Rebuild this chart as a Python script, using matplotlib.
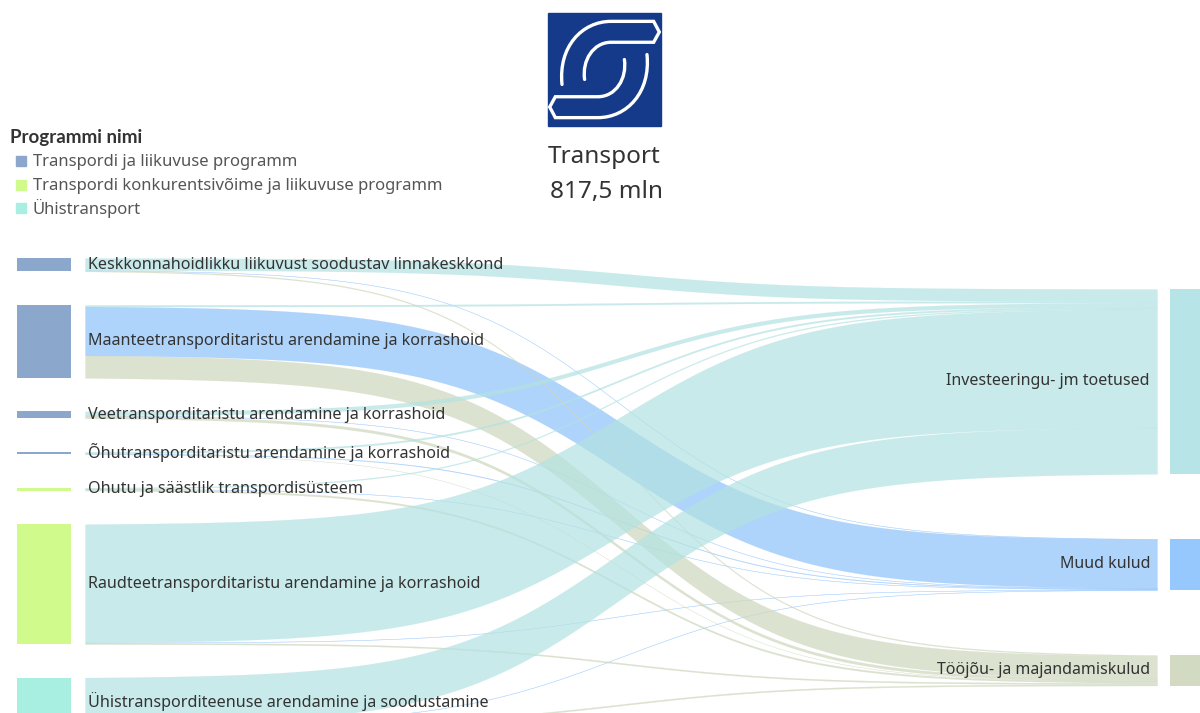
import numpy as np
import matplotlib.pyplot as plt
from matplotlib.path import Path
from matplotlib.patches import PathPatch, Rectangle

plt.rcParams['font.family'] = ['Noto Sans', 'DejaVu Sans']

# ---- data (mln EUR) ----
programs = ['Transpordi ja liikuvuse programm',
            'Transpordi konkurentsivõime ja liikuvuse programm',
            'Ühistransport']
program_colors = ['#8ba7cb', '#d0fa8c', '#a8efe2']

sources = ['Keskkonnahoidlikku liikuvust soodustav linnakeskkond',
           'Maanteetransporditaristu arendamine ja korrashoid',
           'Veetransporditaristu arendamine ja korrashoid',
           'Õhutransporditaristu arendamine ja korrashoid',
           'Ohutu ja säästlik transpordisüsteem',
           'Raudteetransporditaristu arendamine ja korrashoid',
           'Ühistransporditeenuse arendamine ja soodustamine']
source_program = [0, 0, 0, 0, 1, 1, 2]

targets = ['Investeeringu- jm toetused', 'Muud kulud', 'Tööjõu- ja majandamiskulud']
target_colors = ['#b7e4e6', '#97c8fd', '#d2dac2']
flow_colors = ['#b2e2e2', '#8ec2fb', '#cdd7bc']

# rows = sources, cols = targets
flows = np.array([
    [37, 1, 3],
    [5, 150, 69],
    [12, 1, 8],
    [5, 2, 0.5],
    [3, 1, 5],
    [363, 1, 4],
    [142, 1, 4],
])

# ---- layout (pixels) ----
W, H = 1200, 713
SCALE = 0.326          # px per mln
LEFT_Y0, GAP_L = 258, 33.5
RIGHT_Y0, GAP_R = 289, 65
X0, X1 = 85, 1157

fig = plt.figure(figsize=(12, 7.13), dpi=100)
ax = fig.add_axes([0, 0, 1, 1])
ax.set_xlim(0, W)
ax.set_ylim(H, 0)
ax.axis('off')

src_tot = flows.sum(axis=1)
tgt_tot = flows.sum(axis=0)

src_y = []
y = LEFT_Y0
for v in src_tot:
    src_y.append(y)
    y += v * SCALE + GAP_L
tgt_y = []
y = RIGHT_Y0
for v in tgt_tot:
    tgt_y.append(y)
    y += v * SCALE + GAP_R

# start offsets of each flow at both ends
n_s, n_t = flows.shape
start = np.zeros_like(flows, dtype=float)
end = np.zeros_like(flows, dtype=float)
for i in range(n_s):
    y = src_y[i]
    for j in range(n_t):
        start[i, j] = y
        y += flows[i, j] * SCALE
for j in range(n_t):
    y = tgt_y[j]
    for i in range(n_s):
        end[i, j] = y
        y += flows[i, j] * SCALE

xs = np.linspace(X0, X1, 400)
u = (xs - X0) / (X1 - X0)
k = 12
s = 1 / (1 + np.exp(-k * (u - 0.5)))
s = (s - s[0]) / (s[-1] - s[0])

for j in [1, 2, 0]:
    for i in range(n_s):
        h = flows[i, j] * SCALE
        top = start[i, j] + (end[i, j] - start[i, j]) * s
        ax.fill_between(xs, top, top + h, color=flow_colors[j], alpha=0.7,
                        lw=0.15, edgecolor=flow_colors[j])

# nodes
for i, name in enumerate(sources):
    h = src_tot[i] * SCALE
    ax.bar(44, h, bottom=src_y[i], width=54, color=program_colors[source_program[i]])
    ax.text(88, src_y[i] + h / 2, name, ha='left', va='center',
            fontsize=11.6, color='#333333')
for j, name in enumerate(targets):
    h = tgt_tot[j] * SCALE
    ax.bar(1190, h, bottom=tgt_y[j], width=40, color=target_colors[j])
    ax.text(1150, tgt_y[j] + h / 2, name, ha='right', va='center',
            fontsize=11.5, color='#333333')

# legend
ax.text(10, 137, 'Programmi nimi', ha='left', va='center', fontsize=13.5,
        fontweight='bold', family=['Lato', 'DejaVu Sans'], color='#333333')
for k_, (p, c) in enumerate(zip(programs, program_colors)):
    yy = 161 + k_ * 23.5
    ax.add_patch(Rectangle((16, yy - 5), 10, 10, color=c))
    ax.text(33, yy + 1, p, ha='left', va='center', fontsize=12, color='#555555')

# title
total = flows.sum()
ax.text(604, 157, 'Transport', ha='center', va='center', fontsize=17.5, color='#333333')
ax.text(607, 192, f'{total:.1f}'.replace('.', ',') + ' mln', ha='center',
        va='center', fontsize=17.5, color='#333333')

# logo
LX, LY, LS = 548, 13, 113
ax.add_patch(Rectangle((LX, LY), LS, LS, color='#153a8a'))
half = [(0.124, 0.632), (0.090, 0.300), (0.300, 0.074), (0.559, 0.074),
        (0.935, 0.074), (0.985, 0.168), (0.935, 0.259), (0.559, 0.259),
        (0.400, 0.259), (0.300, 0.420), (0.324, 0.588)]
codes = [Path.MOVETO, Path.CURVE4, Path.CURVE4, Path.CURVE4,
         Path.LINETO, Path.LINETO, Path.LINETO, Path.LINETO,
         Path.CURVE4, Path.CURVE4, Path.CURVE4]
for rot in (False, True):
    pts = [((1 - a) if rot else a, (1 - b) if rot else b) for a, b in half]
    verts = [(LX + a * LS, LY + b * LS) for a, b in pts]
    ax.add_patch(PathPatch(Path(verts, codes), fill=False, edgecolor='white',
                           lw=2.4, joinstyle='miter', capstyle='round'))

fig.savefig('out.png', dpi=100)
